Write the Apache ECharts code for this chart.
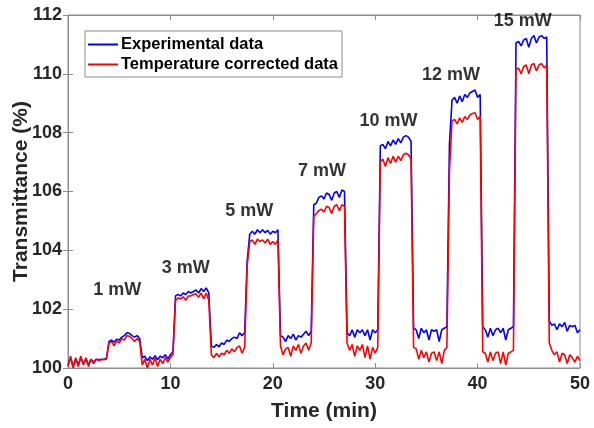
<!DOCTYPE html>
<html>
<head>
<meta charset="utf-8">
<script src="https://cdn.jsdelivr.net/npm/echarts@6/dist/echarts.min.js"></script>
<style>
  html, body { margin: 0; padding: 0; background: #fff; }
  #chart { width: 594px; height: 428px; }
</style>
</head>
<body>
<div id="chart"></div>
<script>
  // time (min), sampled every 0.25 min
  const times = [
    0, 0.25, 0.5, 0.75, 1, 1.25, 1.5, 1.75, 2, 2.25, 2.5, 2.75, 3, 3.25, 3.5, 3.75,
    4, 4.25, 4.5, 4.75, 5, 5.25, 5.5, 5.75, 6, 6.25, 6.5, 6.75, 7, 7.25, 7.5, 7.75,
    8, 8.25, 8.5, 8.75, 9, 9.25, 9.5, 9.75, 10, 10.25, 10.5, 10.75, 11, 11.25, 11.5, 11.75,
    12, 12.25, 12.5, 12.75, 13, 13.25, 13.5, 13.75, 14, 14.25, 14.5, 14.75, 15, 15.25, 15.5, 15.75,
    16, 16.25, 16.5, 16.75, 17, 17.25, 17.5, 17.75, 18, 18.25, 18.5, 18.75, 19, 19.25, 19.5, 19.75,
    20, 20.25, 20.5, 20.75, 21, 21.25, 21.5, 21.75, 22, 22.25, 22.5, 22.75, 23, 23.25, 23.5, 23.75,
    24, 24.25, 24.5, 24.75, 25, 25.25, 25.5, 25.75, 26, 26.25, 26.5, 26.75, 27, 27.25, 27.5, 27.75,
    28, 28.25, 28.5, 28.75, 29, 29.25, 29.5, 29.75, 30, 30.25, 30.5, 30.75, 31, 31.25, 31.5, 31.75,
    32, 32.25, 32.5, 32.75, 33, 33.25, 33.5, 33.75, 34, 34.25, 34.5, 34.75, 35, 35.25, 35.5, 35.75,
    36, 36.25, 36.5, 36.75, 37, 37.25, 37.5, 37.75, 38, 38.25, 38.5, 38.75, 39, 39.25, 39.5, 39.75,
    40, 40.25, 40.5, 40.75, 41, 41.25, 41.5, 41.75, 42, 42.25, 42.5, 42.75, 43, 43.25, 43.5, 43.75,
    44, 44.25, 44.5, 44.75, 45, 45.25, 45.5, 45.75, 46, 46.25, 46.5, 46.75, 47, 47.25, 47.5, 47.75,
    48, 48.25, 48.5, 48.75, 49, 49.25, 49.5, 49.75, 50
  ]

  // Experimental data (%)
  const experimental = [
    100.1, 100.35, 100.05, 100.3, 100.1, 100.35, 100.15, 100.3, 100.1, 100.3, 100.2, 100.3, 100.28, 100.3, 100.3, 100.32,
    100.9, 100.95, 100.88, 100.98, 100.95, 101.05, 101.1, 101.2, 101.18, 101.1, 101.05, 101.1, 101.0, 100.35, 100.4, 100.25,
    100.38, 100.3, 100.42, 100.28, 100.4, 100.35, 100.45, 100.3, 100.45, 100.55, 102.45, 102.5, 102.45, 102.55, 102.5, 102.6,
    102.55, 102.6, 102.65, 102.55, 102.7, 102.6, 102.72, 102.55, 100.75, 100.7, 100.8, 100.72, 100.85, 100.8, 100.95, 100.9,
    101.0, 101.05, 101.0, 101.2, 101.1, 101.2, 103.65, 104.55, 104.65, 104.55, 104.7, 104.6, 104.7, 104.6, 104.68, 104.55,
    104.65, 104.6, 104.7, 101.1, 101.05, 100.9, 101.1, 101.0, 101.15, 100.95, 101.1, 101.05, 101.15, 101.25, 101.1, 101.25,
    105.55, 105.6, 105.8, 105.85, 105.75, 105.95, 105.9, 105.7, 105.95, 106.0, 105.8, 106.05, 106.0, 101.2, 101.1, 101.3,
    101.05, 101.3, 101.2, 101.3, 101.1, 101.3, 100.95, 101.3, 101.2, 101.3, 107.55, 107.6, 107.45, 107.7, 107.55, 107.75,
    107.6, 107.8, 107.65, 107.85, 107.9, 107.85, 107.7, 101.35, 101.3, 101.0, 101.35, 101.2, 101.3, 100.95, 101.3, 101.25,
    101.3, 100.9, 101.3, 101.35, 101.4, 107.6, 109.1, 109.2, 109.0, 109.25, 109.05, 109.3, 109.2, 109.35, 109.4, 109.45,
    109.2, 109.3, 101.4, 101.3, 101.05, 101.35, 101.1, 101.3, 101.35, 101.2, 101.35, 100.95, 101.3, 101.35, 101.4, 111.05,
    111.1, 110.95, 111.15, 111.2, 110.9, 111.2, 111.3, 111.05, 111.25, 111.3, 111.2, 111.25, 101.6, 101.45, 101.5, 101.3,
    101.5, 101.4, 101.55, 101.25, 101.45, 101.4, 101.45, 101.2, 101.3
  ]

  // Temperature corrected data (%)
  const corrected = [
    100.05, 100.4, 100.0, 100.35, 100.05, 100.4, 100.1, 100.35, 100.05, 100.3, 100.15, 100.3, 100.25, 100.28, 100.28, 100.3,
    100.85, 100.9, 100.75, 100.92, 100.85, 101.0, 100.95, 101.1, 101.08, 101.0, 100.9, 101.0, 100.9, 100.1, 100.3, 100.0,
    100.3, 100.1, 100.35, 100.05, 100.3, 100.15, 100.35, 100.2, 100.35, 100.45, 102.3, 102.38, 102.35, 102.42, 102.3, 102.45,
    102.45, 102.5, 102.52, 102.4, 102.55, 102.35, 102.55, 102.3, 100.45, 100.35, 100.5, 100.38, 100.5, 100.45, 100.6, 100.5,
    100.65, 100.55, 100.7, 100.75, 100.5, 100.7, 103.5, 104.3, 104.35, 104.2, 104.38, 104.3, 104.35, 104.25, 104.38, 104.2,
    104.3, 104.2, 104.35, 100.75, 100.45, 100.65, 100.7, 100.4, 100.75, 100.6, 100.8, 100.5, 100.75, 100.85, 100.6, 100.85,
    105.15, 105.25, 105.35, 105.4, 105.3, 105.5, 105.45, 105.25, 105.5, 105.55, 105.35, 105.55, 105.5, 100.85, 100.6, 100.8,
    100.4, 100.75, 100.6, 100.8, 100.35, 100.75, 100.3, 100.7, 100.5, 100.7, 107.0, 107.1, 106.85, 107.15, 106.95, 107.2,
    107.0, 107.2, 107.05, 107.25, 107.3, 107.25, 107.1, 100.7, 100.65, 100.3, 100.6, 100.35, 100.55, 100.2, 100.5, 100.55,
    100.25, 100.55, 100.15, 100.6, 100.7, 106.7, 108.4, 108.45, 108.3, 108.5, 108.35, 108.55, 108.45, 108.6, 108.65, 108.68,
    108.45, 108.55, 100.55, 100.5, 100.2, 100.55, 100.25, 100.5, 100.55, 100.15, 100.55, 100.1, 100.5, 100.55, 100.6, 110.15,
    110.2, 110.0, 110.25, 110.3, 110.0, 110.3, 110.35, 110.1, 110.3, 110.35, 110.2, 110.3, 100.85, 100.6, 100.45, 100.55,
    100.2, 100.5, 100.45, 100.15, 100.45, 100.35, 100.2, 100.4, 100.25
  ]

  // laser power annotations
  const powerLabels = ['1 mW', '3 mW', '5 mW', '7 mW', '10 mW', '12 mW', '15 mW']
  const powerX = [4.8, 11.5, 17.7, 24.8, 31.3, 37.4, 44.4]
  const powerY = [102.65, 103.4, 105.35, 106.7, 108.4, 109.95, 111.8]

  const font = '"Liberation Sans", Arial, sans-serif'
  const axisColor = '#8c8c8c'
  const textColor = '#262626'

  let blueData = times.map((t, i) => [t, experimental[i]])
  let redData = times.map((t, i) => [t, corrected[i]])
  let annData = powerX.map((x, i) => [x, powerY[i], powerLabels[i]])

  let myChart = echarts.init(document.getElementById('chart'), null, {renderer: 'canvas'})

  let option = {
    animation: false,
    backgroundColor: '#fff',
    grid: {
      left: 68,
      right: 14,
      top: 15,
      bottom: 60,
      show: true,
      borderColor: axisColor,
      borderWidth: 1
    },
    legend: {
      data: ['Experimental data', 'Temperature corrected data'],
      orient: 'vertical',
      left: 85,
      top: 31,
      itemGap: 3,
      itemWidth: 30,
      itemHeight: 2,
      icon: 'rect',
      padding: [5, 4, 4, 3],
      borderColor: axisColor,
      borderWidth: 1,
      textStyle: {
        fontFamily: font,
        fontWeight: 'bold',
        fontSize: 16.5,
        color: '#000',
        padding: [0, 0, 0, -2]
      }
    },
    xAxis: [
      {
        type: 'value',
        min: 0,
        max: 50,
        interval: 10,
        name: 'Time (min)',
        nameLocation: 'middle',
        nameGap: 33,
        nameMoveOverlap: false,
        nameTextStyle: {
          fontFamily: font,
          fontWeight: 'bold',
          fontSize: 21,
          color: textColor
        },
        axisLine: {lineStyle: {color: axisColor}},
        axisTick: {inside: true, length: 5, lineStyle: {color: axisColor}},
        axisLabel: {
          fontFamily: font,
          fontWeight: 'bold',
          fontSize: 18,
          color: textColor,
          margin: 7
        },
        splitLine: {show: false}
      },
      {
        type: 'value',
        position: 'top',
        min: 0,
        max: 50,
        interval: 10,
        axisLine: {lineStyle: {color: axisColor}},
        axisTick: {inside: true, length: 5, lineStyle: {color: axisColor}},
        axisLabel: {show: false},
        splitLine: {show: false}
      }
    ],
    yAxis: [
      {
        type: 'value',
        min: 100,
        max: 112,
        interval: 2,
        name: 'Transmittance (%)',
        nameLocation: 'middle',
        nameGap: 36,
        nameMoveOverlap: false,
        nameTextStyle: {
          fontFamily: font,
          fontWeight: 'bold',
          fontSize: 21,
          color: textColor
        },
        axisLine: {show: true, lineStyle: {color: axisColor}},
        axisTick: {show: true, inside: true, length: 5, lineStyle: {color: axisColor}},
        axisLabel: {
          fontFamily: font,
          fontWeight: 'bold',
          fontSize: 18,
          color: textColor,
          margin: 6
        },
        splitLine: {show: false}
      },
      {
        type: 'value',
        position: 'right',
        min: 100,
        max: 112,
        interval: 2,
        axisLine: {show: true, lineStyle: {color: axisColor}},
        axisTick: {show: true, inside: true, length: 5, lineStyle: {color: axisColor}},
        axisLabel: {show: false},
        splitLine: {show: false}
      }
    ],
    series: [
      {
        name: 'Experimental data',
        type: 'line',
        data: blueData,
        symbol: 'none',
        color: '#0000ff',
        lineStyle: {width: 1.6, color: '#0000ff'}
      },
      {
        name: 'Temperature corrected data',
        type: 'line',
        data: redData,
        symbol: 'none',
        color: '#ff0000',
        lineStyle: {width: 1.6, color: '#ff0000'}
      },
      {
        name: 'power',
        type: 'scatter',
        data: annData,
        symbolSize: 0,
        silent: true,
        label: {
          show: true,
          position: 'inside',
          formatter: function (p) {
            return p.data[2]
          },
          fontFamily: font,
          fontWeight: 'bold',
          fontSize: 18,
          color: '#000'
        }
      }
    ]
  }

  myChart.setOption(option)
</script>
</body>
</html>
